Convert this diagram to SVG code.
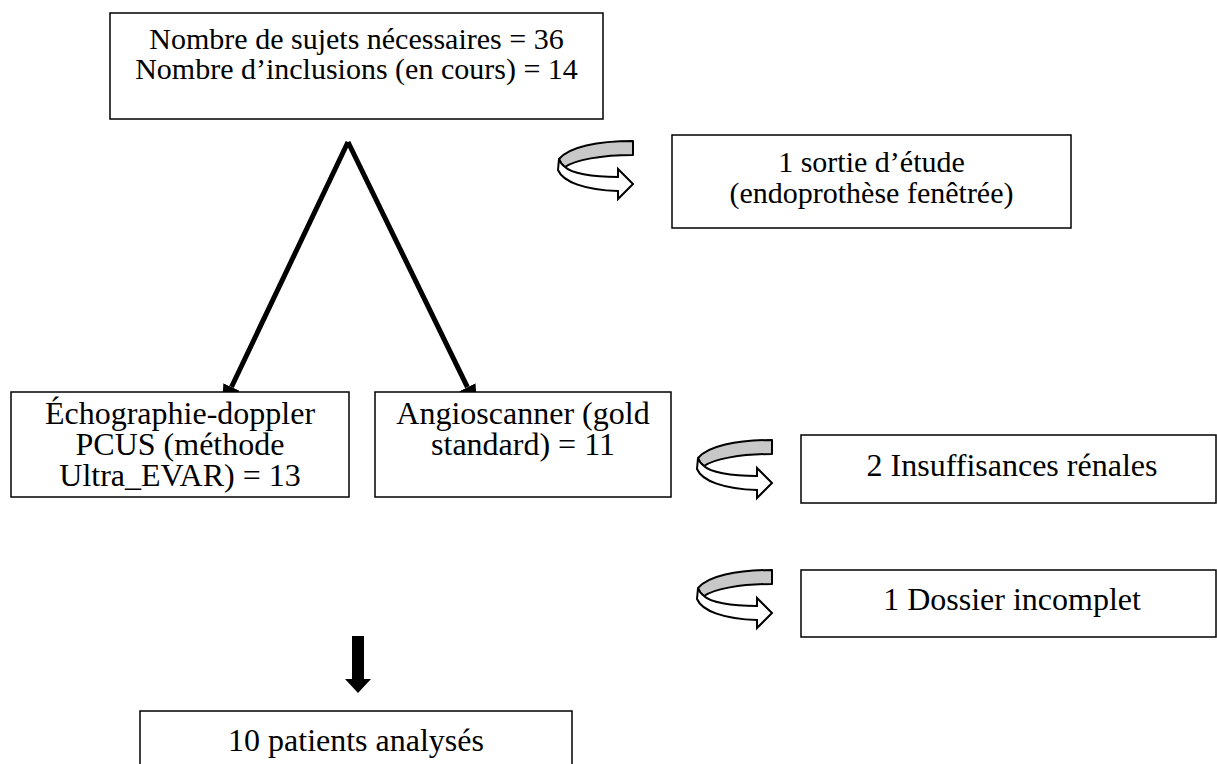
<svg xmlns="http://www.w3.org/2000/svg" width="1217" height="764" viewBox="0 0 1217 764">
<style>
.box{fill:#fff;stroke:#000;stroke-width:1.5}
.t{font-family:"Liberation Serif","Times New Roman",serif;font-size:32px;fill:#000;text-anchor:middle}
.s{font-size:30px}
.v{stroke:#000;stroke-width:5;fill:none;marker-end:url(#ah)}
.back{fill:#c8c8c8;stroke:#000;stroke-width:2;stroke-linejoin:round}
.front{fill:#fff;stroke:#000;stroke-width:2;stroke-linejoin:miter}
</style>
<defs>
<marker id="ah" markerUnits="userSpaceOnUse" markerWidth="22" markerHeight="18" refX="0" refY="9" orient="auto">
<path d="M0,0 L22,9 L0,18 Z" fill="#000"/>
</marker>
<g id="curl">
<path class="back" d="M76,0 L76,14 C44,14 18,19 8,26 C5,24 3,21 2,18 C12,6 40,0 76,0 Z"/>
<path class="front" d="M2,18 L1,29 C6,41 28,49 61,50 L61,58 L76,43 L61,28 L61,36 C34,36 14,32 8,26 C5,24 3,21 2,18 Z"/>
</g>
</defs>
<g id="connectors">
<line class="v" x1="348" y1="142" x2="231.5" y2="387"/>
<line class="v" x1="348" y1="142" x2="467.4" y2="387.2"/>
<path d="M352,636 H364 V679 H371 L358,693 L345,679 H352 Z" fill="#000"/>
<use href="#curl" transform="translate(557,141)"/>
<use href="#curl" transform="translate(696,440)"/>
<use href="#curl" transform="translate(696,570)"/>
</g>
<g id="n-top">
<rect class="box" x="110" y="13" width="493" height="106"/>
<text class="t s" x="356.5" y="49">Nombre de sujets nécessaires = 36</text>
<text class="t s" x="356.5" y="79">Nombre d’inclusions (en cours) = 14</text>
</g>
<g id="n-sortie">
<rect class="box" x="672" y="135" width="399" height="93"/>
<text class="t s" x="871.5" y="172">1 sortie d’étude</text>
<text class="t s" x="871.5" y="203">(endoprothèse fenêtrée)</text>
</g>
<g id="n-echo">
<rect class="box" x="11" y="392" width="338" height="105"/>
<text class="t" x="180" y="424">Échographie-doppler</text>
<text class="t" x="180" y="455">PCUS (méthode</text>
<text class="t" x="180" y="486">Ultra_EVAR) = 13</text>
</g>
<g id="n-angio">
<rect class="box" x="375" y="392" width="296" height="105"/>
<text class="t" x="523" y="424">Angioscanner (gold</text>
<text class="t" x="523" y="455">standard) = 11</text>
</g>
<g id="n-insuf">
<rect class="box" x="801" y="435" width="415" height="68"/>
<text class="t" x="1012" y="476">2 Insuffisances rénales</text>
</g>
<g id="n-dossier">
<rect class="box" x="801" y="570" width="415" height="67"/>
<text class="t" x="1012" y="610">1 Dossier incomplet</text>
</g>
<g id="n-patients">
<rect class="box" x="140" y="711" width="432" height="60"/>
<text class="t" x="356" y="751">10 patients analysés</text>
</g>
</svg>
